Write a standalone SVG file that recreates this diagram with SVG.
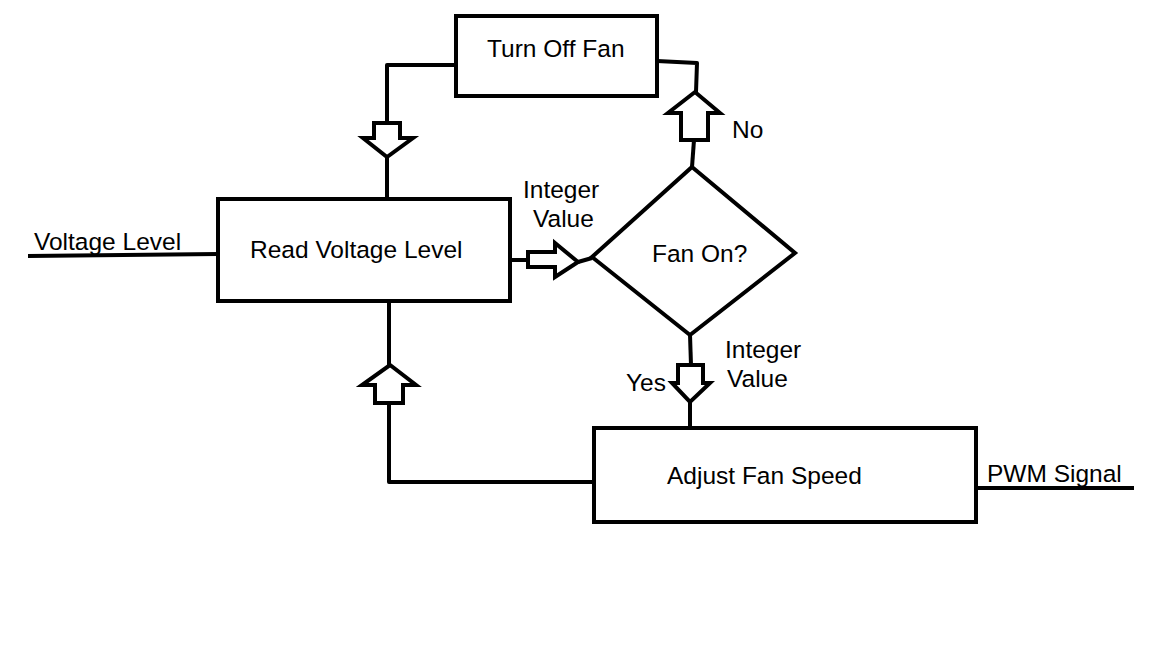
<svg xmlns="http://www.w3.org/2000/svg" width="1152" height="648" viewBox="0 0 1152 648">
<style>
.box{fill:#fff;stroke:#000;stroke-width:4}
.ln{fill:none;stroke:#000;stroke-width:4;stroke-linejoin:round}
.arr{fill:#fff;stroke:#000;stroke-width:4;stroke-linejoin:miter}
text{font-family:"Liberation Sans",Arial,sans-serif;font-size:24.5px;fill:#000}
</style>
<rect width="1152" height="648" fill="#fff"/>
<g id="connectors">
<path class="ln" d="M456,65 H387 V123"/>
<path class="ln" d="M387,157 V199"/>
<path class="ln" d="M657,61 L697,63 L696,92"/>
<path class="ln" d="M694,140 L692,167"/>
<path class="ln" d="M508,260 H528"/>
<path class="ln" d="M578,262 L592,258"/>
<path class="ln" d="M690,335 L691,365"/>
<path class="ln" d="M690,402 V428"/>
<path class="ln" d="M389,301 V365"/>
<path class="ln" d="M389,403 V482 H594"/>
<path class="ln" d="M28,256 L218,254"/>
<path class="ln" d="M976,488 H1134"/>
<polygon class="arr" points="374,123 400,123 400,138 413,138 387,157 363,138 374,138"/>
<polygon class="arr" points="681,140 681,113 668,113 695,92 720,113 708,113 708,140"/>
<polygon class="arr" points="528,252 555,252 555,243 578,262 555,277 555,267 528,267"/>
<polygon class="arr" points="678,365 703,365 703,383 710,383 690,402 672,383 678,383"/>
<polygon class="arr" points="375,403 375,385 362,385 390,365 416,385 403,385 403,403"/>
</g>
<g id="turn-off-fan">
<rect class="box" x="456" y="16" width="201" height="80"/>
<text x="487" y="57">Turn Off Fan</text>
</g>
<g id="read-voltage-level">
<rect class="box" x="218" y="199" width="292" height="102"/>
<text x="250" y="258">Read Voltage Level</text>
</g>
<g id="fan-on">
<polygon class="box" points="692,167 795,253 690,335 592,257"/>
<text x="652" y="262">Fan On?</text>
</g>
<g id="adjust-fan-speed">
<rect class="box" x="594" y="428" width="382" height="94"/>
<text x="667" y="484">Adjust Fan Speed</text>
</g>
<g id="labels">
<text x="34" y="250">Voltage Level</text>
<text x="523" y="198">Integer</text>
<text x="533" y="227">Value</text>
<text x="732" y="138">No</text>
<text x="626" y="391">Yes</text>
<text x="725" y="358">Integer</text>
<text x="727" y="387">Value</text>
<text x="987" y="482">PWM Signal</text>
</g>
</svg>
